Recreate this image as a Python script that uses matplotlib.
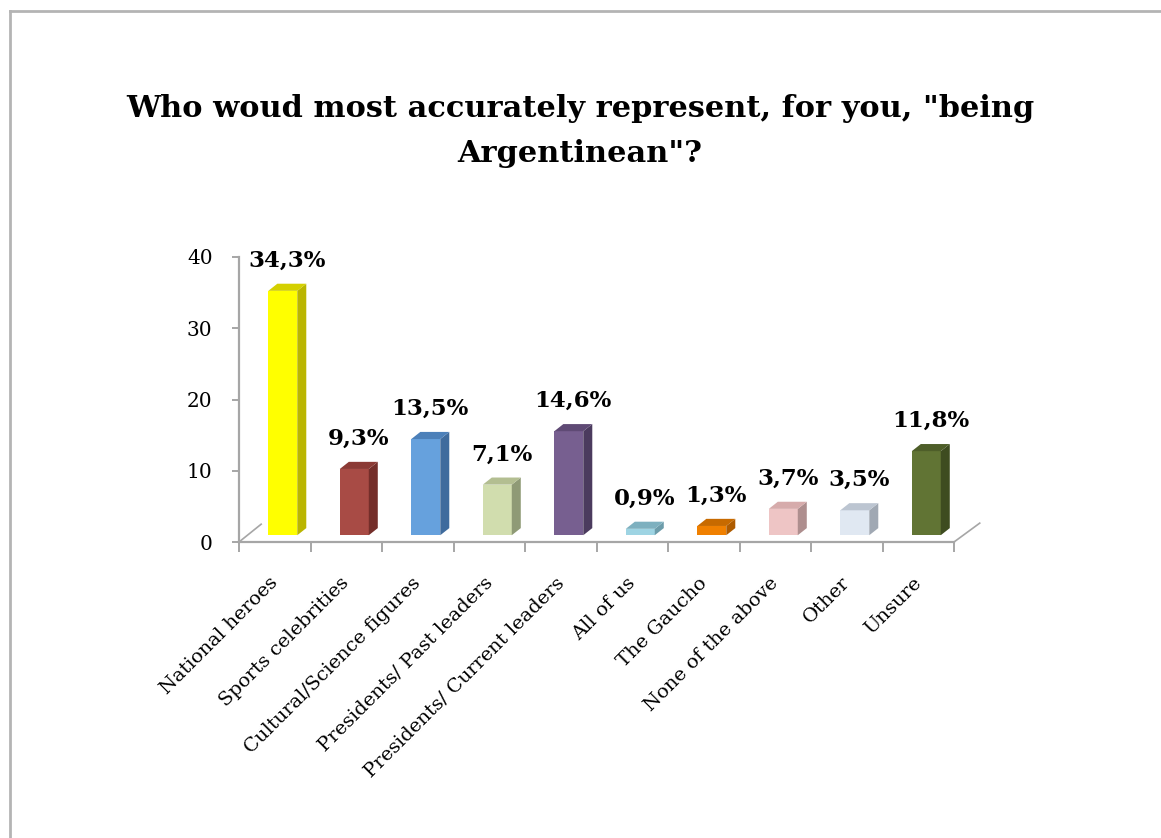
import numpy as np
import matplotlib
matplotlib.use('Agg')
import matplotlib.pyplot as plt
from matplotlib.lines import Line2D
import matplotlib.transforms as mtransforms

categories = ['National heroes', 'Sports celebrities', 'Cultural/Science figures',
              'Presidents/ Past leaders', 'Presidents/ Current leaders', 'All of us',
              'The Gaucho', 'None of the above', 'Other', 'Unsure']
values = [34.3, 9.3, 13.5, 7.1, 14.6, 0.9, 1.3, 3.7, 3.5, 11.8]
front_colors = ['#FFFF00', '#A84B45', '#66A1DD', '#D1DDAE', '#775F90',
                '#9ED4E3', '#F08000', '#EEC5C5', '#E0E8F2', '#617434']
side_colors = ['#BAB500', '#742E2A', '#3F6B9D', '#8F9A76', '#4B3B5E',
               '#6C9CAA', '#AE5B00', '#AE8E8E', '#A0A8B3', '#3E4C20']
top_colors = ['#D4D000', '#8B3A35', '#4C80B9', '#B3BE91', '#5F4A75',
              '#7DB0BF', '#C76A00', '#D6ABAB', '#BCC5D1', '#4E5E29']

plt.rcParams['font.family'] = 'DejaVu Serif'

fig = plt.figure(figsize=(11.61, 8.38), dpi=100)
ax = fig.add_axes([239 / 1161, 296 / 838, 715 / 1161, 285 / 838])

x = np.arange(len(values))
base = 0.95      # bars stand a bit back from the front edge of the floor
off = -0.09      # front face left edge relative to category centre
w = 0.405        # front face width
dx, dy = 0.126, 1.0   # depth offset of the back faces

ax.bar(x + off, values, width=w, bottom=base, align='edge',
       color=front_colors, edgecolor='none', zorder=3)
for i, v in enumerate(values):
    l = i + off
    r = l + w
    t = base + v
    ax.fill([r, r + dx, r + dx, r], [base, base + dy, t + dy, t],
            color=side_colors[i], lw=0, zorder=3)
    ax.fill([l, l + dx, r + dx, r], [t, t + dy, t + dy, t],
            color=top_colors[i], lw=0, zorder=3)
    ax.text(l + (w + dx) / 2, t + dy + 2.4, f'{v:.1f}%'.replace('.', ','),
            ha='center', va='baseline', fontsize=16.5, fontweight='bold', zorder=4)

ax.set_xlim(-0.5, len(values) - 0.5)
ax.set_ylim(0, 40)
ax.set_yticks([0, 10, 20, 30, 40])

axis_col = '#A6A6A6'
for s in ['top', 'right']:
    ax.spines[s].set_visible(False)
for s in ['left', 'bottom']:
    ax.spines[s].set_color(axis_col)
    ax.spines[s].set_linewidth(1.6)

# floor depth lines
ax.plot([-0.5, -0.19], [0, 2.5], color=axis_col, lw=1.2, clip_on=False)
ax.plot([9.5, 9.86], [0, 2.65], color=axis_col, lw=1.2, clip_on=False)

ax.tick_params(axis='y', length=5, width=1.4, color=axis_col, labelsize=14.5, pad=14)
ax.set_xticks(x)
ax.set_xticklabels(categories)
ax.set_xticks(np.arange(-0.5, len(values)), minor=True)
ax.tick_params(axis='x', which='major', length=0, labelsize=14, pad=23)
ax.tick_params(axis='x', which='minor', length=7, width=1.4, color=axis_col)
shift = mtransforms.ScaledTranslation(-6 / 100, 0, fig.dpi_scale_trans)
for lab in ax.get_xticklabels():
    lab.set_rotation(45)
    lab.set_ha('right')
    lab.set_va('top')
    lab.set_rotation_mode('anchor')
    lab.set_transform(lab.get_transform() + shift)

fig.text(0.4996, 1 - 117 / 838, 'Who woud most accurately represent, for you, "being',
         ha='center', va='baseline', fontsize=21.9, fontweight='bold')
fig.text(0.4996, 1 - 162 / 838, 'Argentinean"?',
         ha='center', va='baseline', fontsize=21.9, fontweight='bold')

# outer chart frame
frame_col = '#B4B4B4'
fig.add_artist(Line2D([10 / 1161, 10 / 1161], [0, 1 - 11 / 838], color=frame_col, lw=2))
fig.add_artist(Line2D([10 / 1161, 1], [1 - 11 / 838, 1 - 11 / 838], color=frame_col, lw=2))

fig.savefig('out.png', dpi=100)
